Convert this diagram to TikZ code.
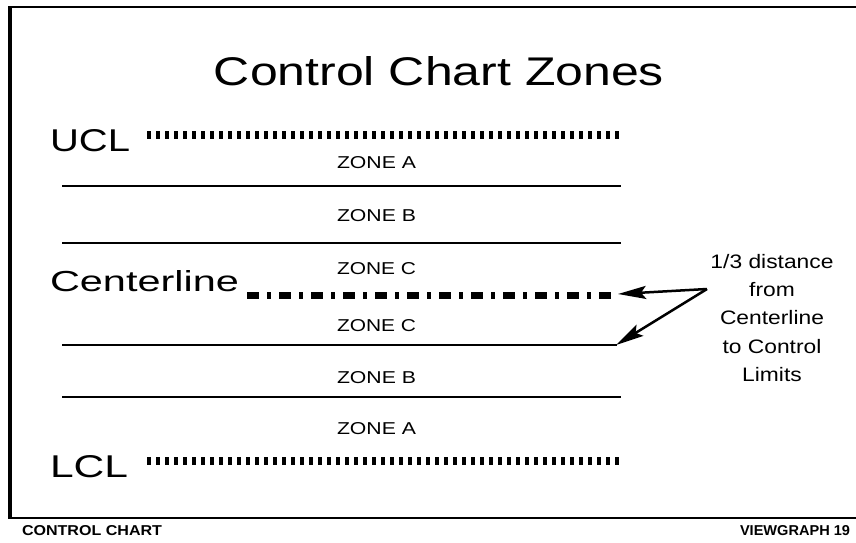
\documentclass[tikz,border=0pt]{standalone}
\usepackage{graphicx}
\usepackage{fontspec}
\setmainfont{Liberation Sans}
\usetikzlibrary{arrows.meta}

\tikzset{
  frameline/.style={line width=2.5pt, black},
  zoneline/.style={line width=2.5pt, black},
  limitline/.style={line width=8pt, black, dash pattern=on 3.5pt off 5.5pt},
  centerdash/.style={line width=7pt, black, dash pattern=on 12pt off 8pt on 4pt off 8pt},
  pointer/.style={line width=2.5pt, black, -{Stealth[length=28pt,width=13pt,inset=5pt]}},
  label/.style={inner sep=0pt, outer sep=0pt},
}

% text stretched to a given width and height
\newcommand{\fitbox}[3]{\resizebox{#1}{#2}{#3}}
% one line of the side note, slightly widened
\newcommand{\noteline}[1]{\scalebox{1.17}[1]{#1}}

\begin{document}
\begin{tikzpicture}[x=1pt, y=-1pt]
  \useasboundingbox (0,0) rectangle (856,542);

  % slide frame (open on the right)
  \draw[frameline, line width=2pt] (10,7) -- (856,7);
  \draw[frameline, line width=3.5pt] (10,6) -- (10,519);
  \draw[frameline] (10,518) -- (856,518);

  % title
  \node[label] (title) at (439,71) {\fitbox{450pt}{29pt}{Control Chart Zones}};

  % limit and centre labels
  \node[label, anchor=west] (ucl) at (50,141) {\fitbox{80pt}{22pt}{UCL}};
  \node[label, anchor=west] (cl) at (50,281) {\fitbox{189pt}{21pt}{Centerline}};
  \node[label, anchor=west] (lcl) at (50,467) {\fitbox{78pt}{22pt}{LCL}};

  % limit lines and centreline
  \draw[limitline] (147,135) -- (621,135);
  \draw[limitline] (147,461) -- (621,461);
  \draw[centerdash] (247,295) -- (615,295);

  % zone boundaries
  \draw[zoneline] (62,186) -- (621,186);
  \draw[zoneline] (62,243) -- (621,243);
  \draw[zoneline] (62,345) -- (617,345);
  \draw[zoneline] (62,397) -- (621,397);

  % zone names
  \node[label, anchor=west] (za1) at (337,163) {\fitbox{79pt}{12pt}{ZONE A}};
  \node[label, anchor=west] (zb1) at (337,216) {\fitbox{79pt}{12pt}{ZONE B}};
  \node[label, anchor=west] (zc1) at (337,269) {\fitbox{79pt}{12pt}{ZONE C}};
  \node[label, anchor=west] (zc2) at (337,326) {\fitbox{79pt}{12pt}{ZONE C}};
  \node[label, anchor=west] (zb2) at (337,378) {\fitbox{79pt}{12pt}{ZONE B}};
  \node[label, anchor=west] (za2) at (337,429) {\fitbox{79pt}{12pt}{ZONE A}};

  % note with its two pointers
  \node[label, align=center, font=\fontsize{19.5pt}{28.3pt}\selectfont] (note) at (772,318)
    {\noteline{1/3 distance}\\
     \noteline{from}\\
     \noteline{Centerline}\\
     \noteline{to Control}\\
     \noteline{Limits}};
  \coordinate (fork) at (707,289);
  \coordinate (tipU) at (618,294);
  \coordinate (tipL) at (616,345);
  \draw[pointer] (fork) -- (tipU);
  \draw[pointer] (fork) -- (tipL);

  % footer
  \node[label, anchor=west] (foot1) at (22,531) {\fitbox{140pt}{10pt}{\bfseries CONTROL CHART}};
  \node[label, anchor=east] (foot2) at (850,531) {\fitbox{110pt}{10pt}{\bfseries VIEWGRAPH 19}};
\end{tikzpicture}
\end{document}
